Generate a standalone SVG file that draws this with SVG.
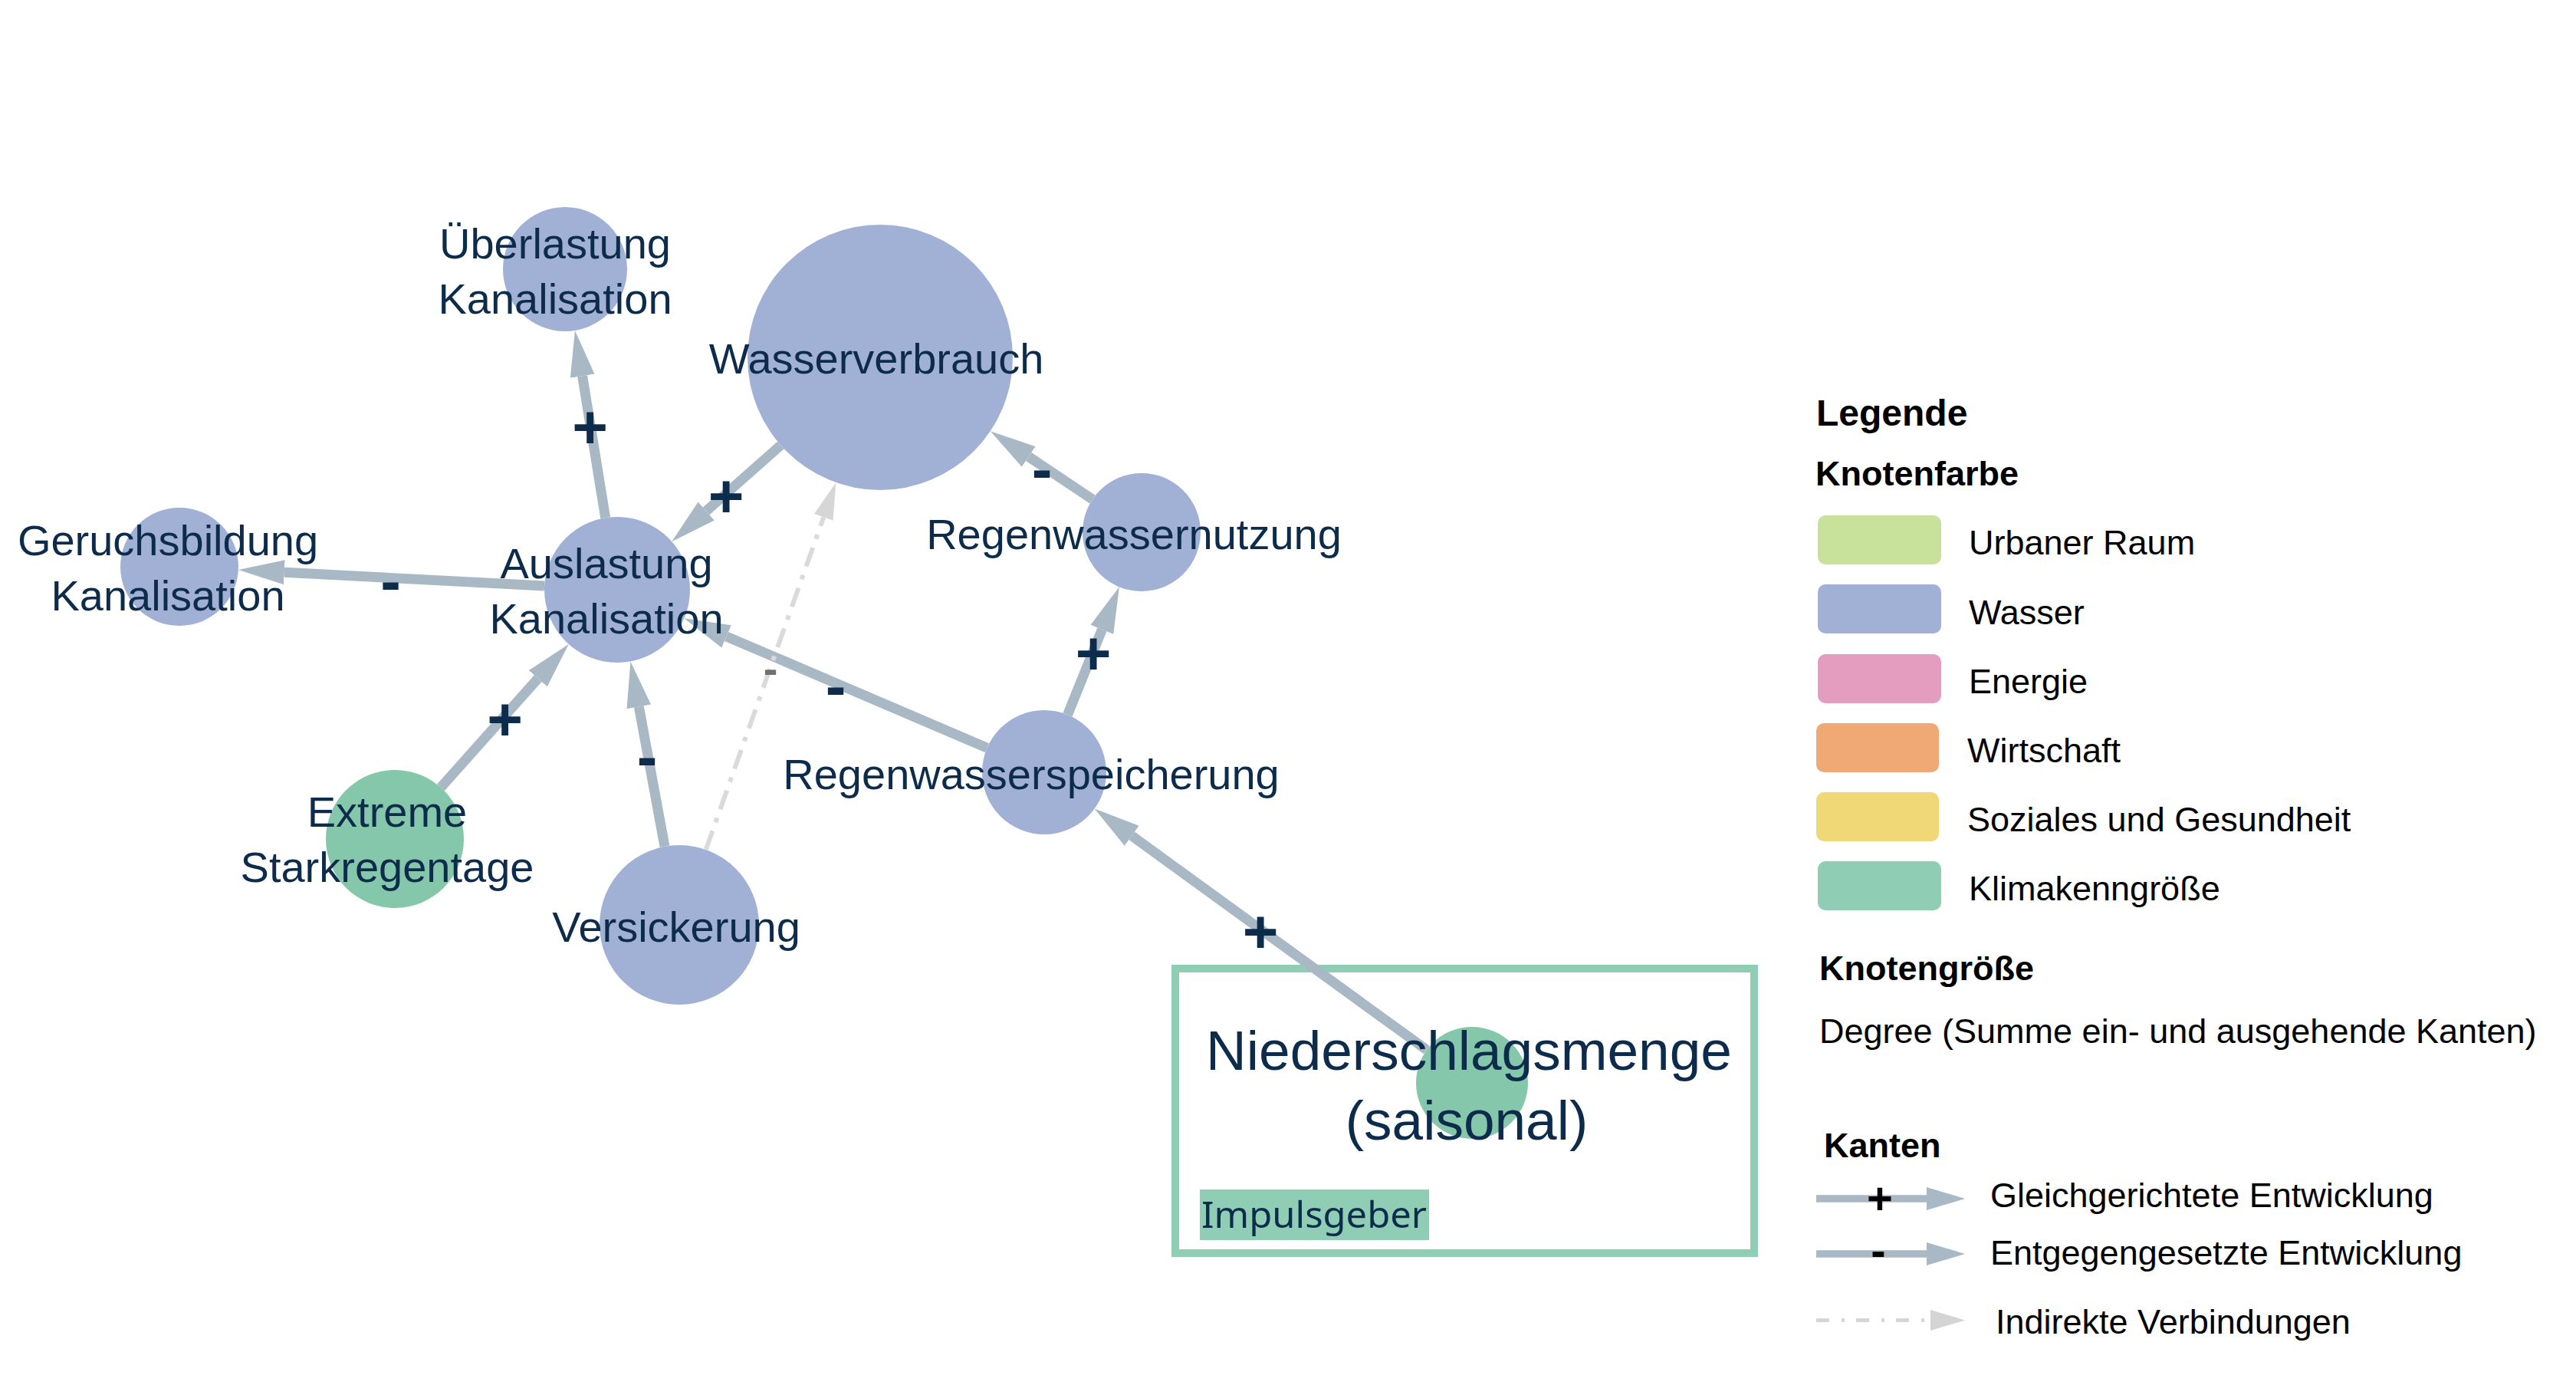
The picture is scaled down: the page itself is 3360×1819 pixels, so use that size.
<svg xmlns="http://www.w3.org/2000/svg" width="3360" height="1819" viewBox="0 0 3360 1819">
<style>
  .bg{fill:#ffffff}
  .wasser{fill:#a1b0d5}
  .klima{fill:#85c7ab}
  .lbl{font-family:"Liberation Sans",Arial,sans-serif;font-size:56px;fill:#0d2c4c;text-anchor:middle}
  .lblbig{font-family:"Liberation Sans",Arial,sans-serif;font-size:73px;fill:#0d2c4c;text-anchor:middle}
  .edge{stroke:#a8b8c4;stroke-width:13;fill:none;marker-end:url(#ah)}
  .ind{stroke:#dadada;stroke-width:6;fill:none;stroke-dasharray:26 12 6 12;marker-end:url(#ahi)}
  .sign{font-family:"Liberation Sans",Arial,sans-serif;font-weight:bold;font-size:80px;fill:#0d2c4c;text-anchor:middle}
  .signsm{font-family:"Liberation Sans",Arial,sans-serif;font-weight:bold;font-size:56px;fill:#707070;text-anchor:middle}
  .lh{font-family:"Liberation Sans",Arial,sans-serif;font-weight:bold;fill:#000}
  .lt{font-family:"Liberation Sans",Arial,sans-serif;font-size:45px;fill:#000}
  .lsign{font-family:"Liberation Sans",Arial,sans-serif;font-weight:bold;font-size:58px;fill:#000;text-anchor:middle}
</style>
<defs>
  <marker id="ah" markerUnits="userSpaceOnUse" viewBox="0 0 60 32" markerWidth="60" markerHeight="32" refX="0" refY="16" orient="auto"><path d="M0,0 L60,16 L0,32 z" fill="#a8b8c4"/></marker>
  <marker id="ahi" markerUnits="userSpaceOnUse" viewBox="0 0 48 26" markerWidth="48" markerHeight="26" refX="0" refY="13" orient="auto"><path d="M0,0 L48,13 L0,26 z" fill="#d6d6d6"/></marker>
  <marker id="ahl" markerUnits="userSpaceOnUse" viewBox="0 0 50 30" markerWidth="50" markerHeight="30" refX="0" refY="15" orient="auto"><path d="M0,0 L50,15 L0,30 z" fill="#a8b8c4"/></marker>
  <marker id="ahli" markerUnits="userSpaceOnUse" viewBox="0 0 45 27" markerWidth="45" markerHeight="27" refX="0" refY="13.5" orient="auto"><path d="M0,0 L45,13.5 L0,27 z" fill="#d4d4d4"/></marker>
</defs>
<rect class="bg" x="0" y="0" width="3360" height="1819"/>

<g id="impulsgeber-frame">
  <rect x="1533" y="1263" width="755" height="371" fill="none" stroke="#8fcdb4" stroke-width="10"/>
  <rect x="1565" y="1551" width="299" height="66" fill="#8fcdb4"/>
  <text x="1567" y="1601" font-family="'Noto Sans','Liberation Sans',sans-serif" font-size="48" fill="#0d2c4c" textLength="294" lengthAdjust="spacingAndGlyphs">Impulsgeber</text>
</g>

<g id="connectors">
  <line class="edge" x1="789.7" y1="675.2" x2="759.6" y2="490.2"/>
  <line class="edge" x1="710.1" y1="764.0" x2="370.8" y2="746.2"/>
  <line class="edge" x1="1018.4" y1="580.5" x2="921.2" y2="666.4"/>
  <line class="edge" x1="1425.0" y1="651.2" x2="1341.7" y2="595.5"/>
  <line class="edge" x1="1392.5" y1="932.0" x2="1437.4" y2="820.9"/>
  <line class="edge" x1="1287.5" y1="975.2" x2="947.6" y2="829.9"/>
  <line class="edge" x1="574.9" y1="1026.9" x2="701.8" y2="884.7"/>
  <line class="edge" x1="867.0" y1="1103.7" x2="833.3" y2="921.4"/>
  <line class="ind" x1="920.7" y1="1108.0" x2="1074.3" y2="674.4"/>
  <line class="edge" x1="1860.9" y1="1369.1" x2="1476.2" y2="1089.8"/>
  <text class="sign" x="769.5" y="583.5">+</text>
  <text class="sign" x="509.5" y="785">-</text>
  <text class="sign" x="947" y="674">+</text>
  <text class="sign" x="1359" y="638.5">-</text>
  <text class="sign" x="1426" y="879">+</text>
  <text class="sign" x="1090" y="922">-</text>
  <text class="sign" x="658.5" y="965">+</text>
  <text class="sign" x="844" y="1014">-</text>
  <text class="signsm" x="1005" y="890.5">-</text>
  <text class="sign" x="1644" y="1242">+</text>
</g>

<g id="node-ueberlastung">
  <circle class="wasser" cx="737" cy="351" r="81"/>
  <text class="lbl" x="724" y="337">Überlastung</text>
  <text class="lbl" x="724" y="409">Kanalisation</text>
</g>
<g id="node-wasserverbrauch">
  <circle class="wasser" cx="1148" cy="466" r="173"/>
  <text class="lbl" x="1143" y="487">Wasserverbrauch</text>
</g>
<g id="node-regenwassernutzung">
  <circle class="wasser" cx="1489" cy="694" r="77"/>
  <text class="lbl" x="1479" y="716">Regenwassernutzung</text>
</g>
<g id="node-geruchsbildung">
  <circle class="wasser" cx="234" cy="739" r="77"/>
  <text class="lbl" x="219" y="724">Geruchsbildung</text>
  <text class="lbl" x="219" y="796">Kanalisation</text>
</g>
<g id="node-auslastung">
  <circle class="wasser" cx="805" cy="769" r="95"/>
  <text class="lbl" x="791" y="754">Auslastung</text>
  <text class="lbl" x="791" y="826">Kanalisation</text>
</g>
<g id="node-extreme">
  <circle class="klima" cx="515" cy="1094" r="90"/>
  <text class="lbl" x="505" y="1078">Extreme</text>
  <text class="lbl" x="505" y="1150">Starkregentage</text>
</g>
<g id="node-versickerung">
  <circle class="wasser" cx="886" cy="1206" r="104"/>
  <text class="lbl" x="882" y="1228">Versickerung</text>
</g>
<g id="node-regenwasserspeicherung">
  <circle class="wasser" cx="1362" cy="1007" r="81"/>
  <text class="lbl" x="1345" y="1029">Regenwasserspeicherung</text>
</g>
<g id="node-niederschlagsmenge">
  <circle class="klima" cx="1920" cy="1412" r="73"/>
  <text class="lblbig" x="1916" y="1395">Niederschlagsmenge</text>
  <text class="lblbig" x="1913" y="1486">(saisonal)</text>
</g>

<g id="legend">
  <text class="lh" x="2369" y="555" font-size="48">Legende</text>
  <text class="lh" x="2368" y="633" font-size="45">Knotenfarbe</text>
  <rect x="2371" y="672" width="161" height="64" rx="10" fill="#c9e29b"/>
  <rect x="2371" y="762" width="161" height="64" rx="10" fill="#a1b0d5"/>
  <rect x="2371" y="853" width="161" height="64" rx="10" fill="#e59dbf"/>
  <rect x="2369" y="943" width="160" height="64" rx="10" fill="#f0a875"/>
  <rect x="2369" y="1033" width="160" height="64" rx="10" fill="#f1d876"/>
  <rect x="2371" y="1123" width="161" height="64" rx="10" fill="#8fcdb4"/>
  <text class="lt" x="2568" y="723">Urbaner Raum</text>
  <text class="lt" x="2568" y="814">Wasser</text>
  <text class="lt" x="2568" y="904">Energie</text>
  <text class="lt" x="2566" y="994">Wirtschaft</text>
  <text class="lt" x="2566" y="1084">Soziales und Gesundheit</text>
  <text class="lt" x="2568" y="1174">Klimakenngröße</text>
  <text class="lh" x="2373" y="1278" font-size="45">Knotengröße</text>
  <text class="lt" x="2373" y="1360">Degree (Summe ein- und ausgehende Kanten)</text>
  <text class="lh" x="2379" y="1509" font-size="45">Kanten</text>
  <line x1="2369" y1="1563" x2="2513" y2="1563" stroke="#a8b8c4" stroke-width="9.5" marker-end="url(#ahl)"/>
  <text class="lsign" x="2452" y="1583">+</text>
  <text class="lt" x="2596" y="1574">Gleichgerichtete Entwicklung</text>
  <line x1="2369" y1="1635" x2="2513" y2="1635" stroke="#a8b8c4" stroke-width="9.5" marker-end="url(#ahl)"/>
  <text class="lsign" x="2450" y="1651">-</text>
  <text class="lt" x="2596" y="1649">Entgegengesetzte Entwicklung</text>
  <line x1="2369" y1="1721.5" x2="2518" y2="1721.5" stroke="#d6d6d6" stroke-width="5" stroke-dasharray="17 16 4 15" marker-end="url(#ahli)"/>
  <text class="lt" x="2603" y="1739">Indirekte Verbindungen</text>
</g>
</svg>
